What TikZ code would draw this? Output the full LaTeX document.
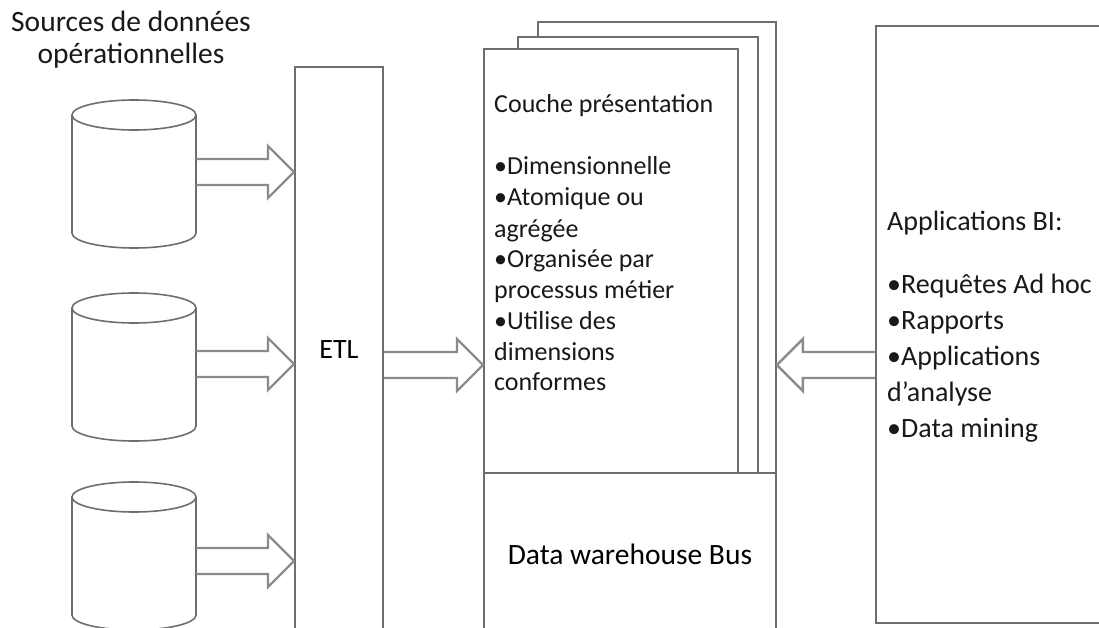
\documentclass[tikz,border=0pt]{standalone}
\usepackage{fontspec}
\setmainfont{Carlito}
\usetikzlibrary{positioning,calc}

\definecolor{boxline}{HTML}{6E6E6E}
\definecolor{arrline}{HTML}{8C8C8C}

\newcommand\bodyfont{\fontsize{26}{31}\selectfont}
\newcommand\bigfont{\fontsize{28}{33}\selectfont}
\newcommand\titlefont{\fontsize{29.5}{35}\selectfont}

% a database can, #1 = top of the can
\newcommand\database[1]{%
  \draw[can] (72,#1+15) -- (72,#1+133) arc (180:0:62 and 15) -- (196,#1+15);
  \draw[can] (134,#1+15) ellipse (62 and 15);}

% hollow block arrow from #1 to #2
\newcommand\hollowarrow[2]{%
  \path (#1) coordinate (ha-s) (#2) coordinate (ha-t);
  \path ($(ha-t)!26pt!(ha-s)$) coordinate (ha-h);
  \draw[arrowline] ($(ha-s)!13pt!90:(ha-t)$) -- ($(ha-h)!13pt!-90:(ha-s)$)
    -- ($(ha-h)!26pt!-90:(ha-s)$) -- (ha-t) -- ($(ha-h)!26pt!90:(ha-s)$)
    -- ($(ha-h)!13pt!90:(ha-s)$) -- ($(ha-s)!13pt!-90:(ha-t)$);}

\begin{document}
\begin{tikzpicture}[x=1pt,y=-1pt,
    box/.style={draw=boxline,line width=1.8pt,fill=white,inner sep=0pt,font=\bigfont},
    can/.style={draw=boxline,line width=1.6pt},
    arrowline/.style={draw=arrline,line width=2.4pt,line join=miter},
    txt/.style={inner sep=0pt,text=black!90,font=\bodyfont}]
    \useasboundingbox[fill=white] (0,0) rectangle (1099,628);

    % Sources
    \node[txt,font=\titlefont,anchor=base] (src1) at (131,32) {Sources de données};
    \node[txt,font=\titlefont,anchor=base] (src2) at (131,64) {opérationnelles};
    \database{100}
    \database{293}
    \database{482}
    \coordinate (db1) at (196,172);
    \coordinate (db2) at (196,364);
    \coordinate (db3) at (196,561);

    % ETL
    \node[box,anchor=north west,minimum width=88,minimum height=566] (etl) at (294,66) {ETL};

    % Couche presentation, three sheets
    \node[box,anchor=north west,minimum width=238,minimum height=451] (page3) at (537,21) {};
    \node[box,anchor=north west,minimum width=240,minimum height=436] (page2) at (517,36) {};
    \node[box,anchor=north west,minimum width=254,minimum height=424] (front) at (483,48) {};
    \foreach \y/\t [count=\i] in {113/Couche présentation,175/•Dimensionnelle,206/•Atomique ou,
        237/agrégée,267/•Organisée par,298/processus métier,329/•Utilise des,360/dimensions,390/conformes}
      \node[txt,anchor=base west] (pres\i) at (494,\y) {\t};

    % Bus
    \node[box,font=\titlefont,anchor=north west,minimum width=292,minimum height=162] (bus) at (483,472) {Data warehouse Bus};

    % Applications BI
    \node[box,anchor=north west,minimum width=240,minimum height=597] (bi) at (875,25) {};
    \foreach \y/\t [count=\i] in {230/Applications BI:,293/•Requêtes Ad hoc,329/•Rapports,
        365/•Applications,401/d’analyse,437/•Data mining}
      \node[txt,font=\bigfont,anchor=base west] (app\i) at (887,\y) {\t};

    % Arrows
    \coordinate (lane) at (0,365);
    \hollowarrow{db1}{etl.west |- db1}
    \hollowarrow{db2}{etl.west |- db2}
    \hollowarrow{db3}{etl.west |- db3}
    \hollowarrow{etl.east |- lane}{front.west |- lane}
    \hollowarrow{bi.west |- lane}{bus.east |- lane}
\end{tikzpicture}
\end{document}
